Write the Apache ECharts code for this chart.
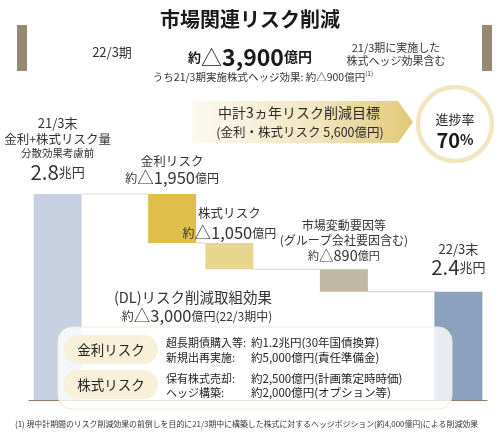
<!DOCTYPE html>
<html>
<head>
<meta charset="utf-8">
<script src="https://cdn.jsdelivr.net/npm/echarts@6/dist/echarts.min.js"></script>
<style>
html, body { margin: 0; padding: 0; background: #fff; }
#main { width: 500px; height: 433px; }
</style>
</head>
<body>
<div id="main"></div>
<script>
// 市場関連リスク削減 (億円)
var categories = ['21/3末', '金利リスク', '株式リスク', '市場変動要因等', '22/3末'];
var values = [28000, 1950, 1050, 890, 24110];
var kinds = ['total', 'down', 'down', 'down', 'total'];
var barColors = ['#c6d0e0', '#e0be4b', '#e9d68e', '#c0b8a5', '#8ba1be'];
var slotOf = [0, 2, 3, 5, 7];   // bar 3 sits right next to bar 2
var slotCount = 8;
var dlEffect = 3000;       // (DL)リスク削減取組効果
var hedgeEffect = 900;     // 21/3期実施株式ヘッジ効果
var targetReduction = 5600;

var FONT = '"Noto Sans CJK JP", "Noto Sans", sans-serif';

function comma(n) {
    return String(n).replace(/\B(?=(\d{3})+(?!\d))/g, ',');
}

// waterfall: transparent base + visible part
var base = [], shown = [], levels = [];
var level = 0;
for (var i = 0; i < values.length; i++) {
    if (kinds[i] === 'total') {
        base.push(0);
        level = values[i];
    } else {
        level = level - values[i];
        base.push(level);
    }
    shown.push(values[i]);
    levels.push(level);
}
var totalDown = values[1] + values[2] + values[3];

// labels above bars
function totalText(v) { return (v / 10000).toFixed(1); }
var labels = [
    {
        distance: 9,
        formatter: '{cat|' + categories[0] + '}\n{sub|金利+株式リスク量}\n{sm|分散効果考慮前}\n{big|' + totalText(values[0]) + '}{unit|兆円}',
        rich: {
            cat: { fontSize: 13, lineHeight: 16 },
            sub: { fontSize: 12.5, lineHeight: 16 },
            sm: { fontSize: 10.5, lineHeight: 12 },
            big: { fontSize: 20.5, lineHeight: 26 },
            unit: { fontSize: 13, lineHeight: 26 }
        }
    },
    {
        distance: 7,
        formatter: '{cat|' + categories[1] + '}\n{yk|約}{num|△' + comma(values[1]) + '}{ok|億円}',
        rich: {
            cat: { fontSize: 12.5, lineHeight: 16 },
            yk: { fontSize: 12, lineHeight: 18 },
            num: { fontSize: 16.5, lineHeight: 18 },
            ok: { fontSize: 12, lineHeight: 18 }
        }
    },
    {
        distance: 1,
        formatter: '{cat|' + categories[2] + '}\n{yk|約}{num|△' + comma(values[2]) + '}{ok|億円}',
        rich: {
            cat: { fontSize: 12.5, lineHeight: 22 },
            yk: { fontSize: 12, lineHeight: 18 },
            num: { fontSize: 16.5, lineHeight: 18 },
            ok: { fontSize: 12, lineHeight: 18 }
        }
    },
    {
        distance: 6,
        formatter: '{cat|' + categories[3] + '}\n{cat|(グループ会社要因含む)}\n{yk|約}{num|△' + comma(values[3]) + '}{ok|億円}',
        rich: {
            cat: { fontSize: 12, lineHeight: 15 },
            yk: { fontSize: 11, lineHeight: 15 },
            num: { fontSize: 14.5, lineHeight: 15 },
            ok: { fontSize: 11, lineHeight: 15 }
        }
    },
    {
        distance: 14,
        formatter: '{cat|' + categories[4] + '}\n{big|' + totalText(values[4]) + '}{unit|兆円}',
        rich: {
            cat: { fontSize: 13, lineHeight: 14 },
            big: { fontSize: 20.5, lineHeight: 22 },
            unit: { fontSize: 13, lineHeight: 22 }
        }
    }
];

var slotNames = [], baseData = [], barData = [];
for (var s = 0; s < slotCount; s++) {
    slotNames.push('');
    baseData.push('-');
    barData.push('-');
}
for (var j = 0; j < categories.length; j++) {
    var k = slotOf[j];
    slotNames[k] = categories[j];
    baseData[k] = base[j];
    var lb = labels[j];
    barData[k] = {
        value: shown[j],
        itemStyle: { color: barColors[j] },
        label: {
            show: true,
            position: 'top',
            align: 'center',
            distance: lb.distance,
            color: '#333',
            fontFamily: FONT,
            formatter: lb.formatter,
            rich: lb.rich
        }
    };
}

// connector lines: [slot from, level, slot to]
var connectors = [];
for (var c = 0; c < categories.length - 1; c++) {
    connectors.push([slotOf[c], levels[c], slotOf[c + 1]]);
}

var BAR_W = 48;

var myChart = echarts.init(document.getElementById('main'));

function txt(x, y, text, size, extra) {
    var st = {
        x: x, y: y, text: text,
        fontSize: size, fontFamily: FONT,
        fill: '#333', align: 'center', verticalAlign: 'middle'
    };
    for (var key in (extra || {})) st[key] = extra[key];
    return { type: 'text', z: 120, style: st };
}

var option = {
    animation: false,
    backgroundColor: '#fff',
    grid: { left: 29, right: 13, top: 194, bottom: 33 },
    xAxis: {
        type: 'category',
        data: slotNames,
        axisLine: { lineStyle: { color: '#8c7b5e', width: 1 } },
        axisTick: { show: false },
        axisLabel: { show: false }
    },
    yAxis: {
        type: 'value',
        min: 19800,
        max: 28000,
        show: false,
        splitLine: { show: false }
    },
    series: [
        {
            type: 'bar',
            stack: 'wf',
            barWidth: BAR_W,
            itemStyle: { color: 'transparent' },
            data: baseData,
            silent: true
        },
        {
            type: 'bar',
            stack: 'wf',
            barWidth: BAR_W,
            data: barData
        },
        {
            type: 'custom',
            encode: { x: 0, y: 1 },
            data: connectors,
            z: 1,
            renderItem: function (params, api) {
                var p1 = api.coord([api.value(0), api.value(1)]);
                var p2 = api.coord([api.value(2), api.value(1)]);
                return {
                    type: 'line',
                    shape: { x1: p1[0] + BAR_W / 2, y1: p1[1], x2: p2[0] - BAR_W / 2, y2: p2[1] },
                    style: { stroke: '#dcdcdc', lineWidth: 1.2 }
                };
            }
        }
    ],
    graphic: [
        { type: 'rect', z: 120, shape: { x: 17, y: 25, width: 10, height: 46 }, style: { fill: '#978873' } },
        { type: 'rect', z: 120, shape: { x: 482, y: 25, width: 10, height: 46 }, style: { fill: '#978873' } },
        txt(250, 19, '市場関連リスク削減', 20, { fontWeight: 'bold', fill: '#1a1a1a' }),
        txt(112, 52, '22/3期', 13),
        {
            type: 'text', z: 120,
            style: {
                x: 250, y: 57, align: 'center', verticalAlign: 'middle',
                text: '{y|約}{t|△}{n|' + comma(Math.round(totalDown / 100) * 100) + '}{o|億円}',
                fontFamily: FONT, fill: '#1a1a1a',
                rich: {
                    y: { fontSize: 13, fontWeight: 'bold', fontFamily: FONT, lineHeight: 26 },
                    t: { fontSize: 21, fontFamily: FONT, lineHeight: 26 },
                    n: { fontSize: 23, fontWeight: 'bold', fontFamily: FONT, lineHeight: 26 },
                    o: { fontSize: 14, fontWeight: 'bold', fontFamily: FONT, lineHeight: 26 }
                }
            }
        },
        txt(396, 54, '21/3期に実施した\n株式ヘッジ効果含む', 11, { lineHeight: 13 }),
        {
            type: 'text', z: 120,
            style: {
                x: 263, y: 77, align: 'center', verticalAlign: 'middle',
                text: '{m|うち21/3期実施株式ヘッジ効果: 約△' + comma(hedgeEffect) + '億円}{s|(1)}',
                fontFamily: FONT, fill: '#333',
                rich: {
                    m: { fontSize: 10.5, fontFamily: FONT, lineHeight: 14 },
                    s: { fontSize: 6.5, fontFamily: FONT, lineHeight: 14, verticalAlign: 'top' }
                }
            }
        },
        // target banner
        {
            type: 'polygon', z: 110,
            shape: { points: [[192, 101], [398, 101], [413, 122], [398, 143], [192, 143]] },
            style: {
                fill: new echarts.graphic.LinearGradient(0, 0, 1, 0, [
                    { offset: 0, color: '#fbf9f1' },
                    { offset: 0.55, color: '#f2e6c2' },
                    { offset: 1, color: '#e2c878' }
                ])
            }
        },
        txt(299, 113, '中計3ヵ年リスク削減目標', 14, { fill: '#2a2a2a' }),
        txt(300, 132, '(金利・株式リスク ' + comma(targetReduction) + '億円)', 12.5, { fill: '#2a2a2a' }),
        {
            type: 'circle', z: 110,
            shape: { cx: 455, cy: 124, r: 37 },
            style: { fill: '#fff', stroke: '#f2e6c0', lineWidth: 4.5 }
        },
        txt(455, 119, '進捗率', 13, { fill: '#2a2a2a' }),
        {
            type: 'text', z: 120,
            style: {
                x: 455, y: 140, align: 'center', verticalAlign: 'middle',
                text: '{n|' + Math.round(Math.round(totalDown / 100) * 100 / targetReduction * 100) + '}{p|%}',
                fontFamily: FONT, fill: '#1a1a1a',
                rich: {
                    n: { fontSize: 20, fontWeight: 'bold', fontFamily: FONT, lineHeight: 22 },
                    p: { fontSize: 14, fontWeight: 'bold', fontFamily: FONT, lineHeight: 22 }
                }
            }
        },
        // DL effect
        txt(193, 297, '(DL)リスク削減取組効果', 14.5),
        {
            type: 'text', z: 120,
            style: {
                x: 197, y: 316, align: 'center', verticalAlign: 'middle',
                text: '{y|約}{n|△' + comma(dlEffect) + '}{o|億円(22/3期中)}',
                fontFamily: FONT, fill: '#333',
                rich: {
                    y: { fontSize: 12, fontFamily: FONT, lineHeight: 20 },
                    n: { fontSize: 16.5, fontFamily: FONT, lineHeight: 20 },
                    o: { fontSize: 12, fontFamily: FONT, lineHeight: 20 }
                }
            }
        },
        {
            type: 'rect', z: 100,
            shape: { x: 58, y: 327, width: 394, height: 82, r: 14 },
            style: { fill: 'rgba(255,255,255,0.8)', stroke: '#f4ebcd', lineWidth: 1 }
        },
        { type: 'rect', z: 110, shape: { x: 64, y: 335, width: 94, height: 29, r: 14.5 }, style: { fill: '#f8f0d8' } },
        { type: 'rect', z: 110, shape: { x: 64, y: 370, width: 94, height: 29, r: 14.5 }, style: { fill: '#f8f0d8' } },
        txt(111, 350, '金利リスク', 13.5, { fill: '#222' }),
        txt(111, 385, '株式リスク', 13.5, { fill: '#222' }),
        txt(166, 343, '超長期債購入等:', 11, { align: 'left', fill: '#222' }),
        txt(251, 343, '約1.2兆円(30年国債換算)', 11.5, { align: 'left', fill: '#222' }),
        txt(166, 358, '新規出再実施:', 11, { align: 'left', fill: '#222' }),
        txt(251, 358, '約5,000億円(責任準備金)', 11.5, { align: 'left', fill: '#222' }),
        txt(166, 379, '保有株式売却:', 11, { align: 'left', fill: '#222' }),
        txt(251, 379, '約2,500億円(計画策定時時価)', 11.5, { align: 'left', fill: '#222' }),
        txt(166, 393, 'ヘッジ構築:', 11, { align: 'left', fill: '#222' }),
        txt(251, 393, '約2,000億円(オプション等)', 11.5, { align: 'left', fill: '#222' }),
        txt(15, 424, '(1) 現中計期間のリスク削減効果の前倒しを目的に21/3期中に構築した株式に対するヘッジポジション(約4,000億円)による削減効果', 7.9, { align: 'left', fill: '#333' })
    ]
};

myChart.setOption(option);
</script>
</body>
</html>
